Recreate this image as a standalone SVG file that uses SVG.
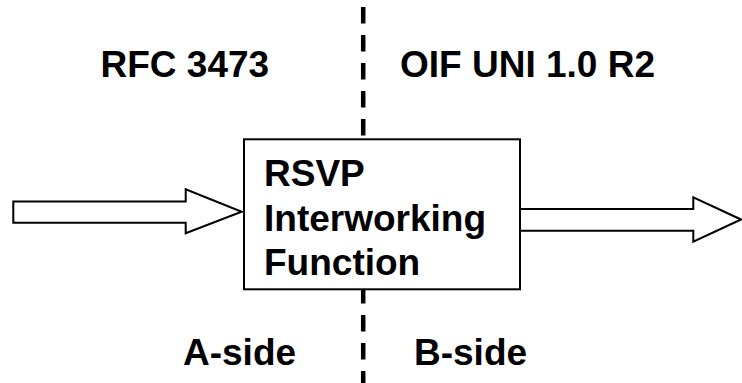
<svg xmlns="http://www.w3.org/2000/svg" width="742" height="383" viewBox="0 0 742 383">
<style>
.lbl{font-family:"Liberation Sans",Arial,sans-serif;font-weight:bold;font-size:37px;fill:#000}
.arrow{fill:#fff;stroke:#000;stroke-width:2;stroke-linejoin:miter}
.divider{stroke:#000;stroke-width:4.5;stroke-dasharray:16.5 11.5;fill:none}
</style>
<rect x="0" y="0" width="742" height="383" fill="#fff"/>
<g id="divider">
<line class="divider" x1="363.2" y1="7" x2="363.2" y2="383"/>
</g>
<g id="labels">
<text class="lbl" x="100.5" y="77">RFC 3473</text>
<text class="lbl" x="400" y="77">OIF UNI 1.0 R2</text>
<text class="lbl" x="183" y="365">A-side</text>
<text class="lbl" x="414" y="365">B-side</text>
</g>
<g id="connectors">
<polygon class="arrow" points="13.3,201.5 185.7,201.5 185.7,189.3 241.7,211.7 185.7,233.3 185.7,222.7 13.3,222.7"/>
<polygon class="arrow" points="520,209 693.3,209 693.3,197.3 741,219.5 693.3,241.7 693.3,230.7 520,230.7"/>
</g>
<g id="iwf">
<rect x="244" y="139.3" width="276" height="150" fill="#fff" stroke="#000" stroke-width="2"/>
<text class="lbl"><tspan x="264" y="186">RSVP</tspan><tspan x="264" y="230.5">Interworking</tspan><tspan x="264" y="275">Function</tspan></text>
</g>
</svg>
